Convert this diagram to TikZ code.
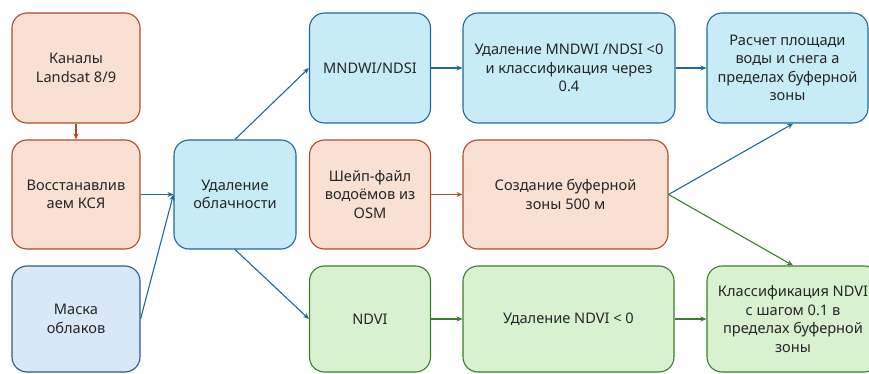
\documentclass[tikz,border=0pt]{standalone}
\usepackage{fontspec}
\setmainfont{Noto Sans}
\usetikzlibrary{arrows.meta,calc}
\definecolor{orfill}{HTML}{FADFD3}
\definecolor{ordraw}{HTML}{B04A2A}
\definecolor{cyfill}{HTML}{C8EBF8}
\definecolor{cydraw}{HTML}{1F6A99}
\definecolor{blfill}{HTML}{D9E8F7}
\definecolor{bldraw}{HTML}{2A5B8E}
\definecolor{grfill}{HTML}{D8F2D0}
\definecolor{grdraw}{HTML}{3C7D2E}
\definecolor{txt}{HTML}{262626}
\tikzset{
  box/.style={rectangle, rounded corners=15pt, line width=1.1pt, align=center,
    text=txt, inner sep=2pt, font=\fontsize{14.6}{18.5}\selectfont},
  orbox/.style={box, fill=orfill, draw=ordraw},
  cybox/.style={box, fill=cyfill, draw=cydraw},
  blbox/.style={box, fill=blfill, draw=bldraw},
  grbox/.style={box, fill=grfill, draw=grdraw},
  arr/.style={line width=1.1pt, -{Stealth[length=6pt,width=5pt]}},
  orarr/.style={arr, draw=ordraw, color=ordraw},
  cyarr/.style={arr, draw=cydraw, color=cydraw},
  grarr/.style={arr, draw=grdraw, color=grdraw},
}
\begin{document}
\begin{tikzpicture}[x=1pt,y=-1pt]
\clip (0,0) rectangle (869,374);
\fill[white] (0,0) rectangle (869,374);
\node[orbox, minimum width=128pt, minimum height=110pt] (kan) at (76,68) {Каналы\\Landsat 8/9};
\node[orbox, minimum width=128pt, minimum height=109pt] (vos) at (76,194.5) {Восстанавлив\\аем КСЯ};
\node[blbox, minimum width=128pt, minimum height=106pt] (mask) at (76,319) {Маска\\облаков};
\node[cybox, minimum width=122pt, minimum height=109pt] (cloud) at (235,194.5) {Удаление\\облачности};
\node[cybox, minimum width=121pt, minimum height=110pt] (mndwi) at (370,68) {MNDWI/NDSI};
\node[orbox, minimum width=121pt, minimum height=109pt] (shp) at (370,194.5) {Шейп-файл\\водоёмов из\\OSM};
\node[grbox, minimum width=121pt, minimum height=106pt] (ndvi) at (370,319) {NDVI};
\node[cybox, minimum width=212pt, minimum height=110pt] (del) at (569,68) {Удаление MNDWI /NDSI <0\\и классификация через\\0.4};
\node[orbox, minimum width=205pt, minimum height=109pt] (buf) at (565.5,194.5) {Создание буферной\\зоны 500 м};
\node[grbox, minimum width=211pt, minimum height=106pt] (deln) at (568.5,319) {Удаление NDVI < 0};
\node[cybox, minimum width=161pt, minimum height=110pt] (area) at (787.5,68) {Расчет площади\\воды и снега а\\пределах буферной\\зоны};
\node[grbox, minimum width=172pt, minimum height=106pt] (cls) at (793,319) {Классификация NDVI\\с шагом 0.1 в\\пределах буферной\\зоны};
\coordinate (areaend) at ($(area.south west)!0.535!(area.south east)$);
\draw[orarr] (kan) -- (vos);
\draw[cyarr] (vos) -- (cloud);
\draw[cyarr] (mask.east) -- (cloud.west);
\draw[cyarr] (cloud.north) -- (mndwi.west);
\draw[cyarr] (cloud.south) -- (ndvi.west);
\draw[cyarr] (mndwi) -- (del);
\draw[cyarr] (del) -- (area);
\draw[orarr] (shp) -- (buf);
\draw[cyarr] (buf.east) -- (areaend);
\draw[grarr] (buf.east) -- (cls.north);
\draw[grarr] (ndvi) -- (deln);
\draw[grarr] (deln.east) -- (cls.west);
\end{tikzpicture}
\end{document}
